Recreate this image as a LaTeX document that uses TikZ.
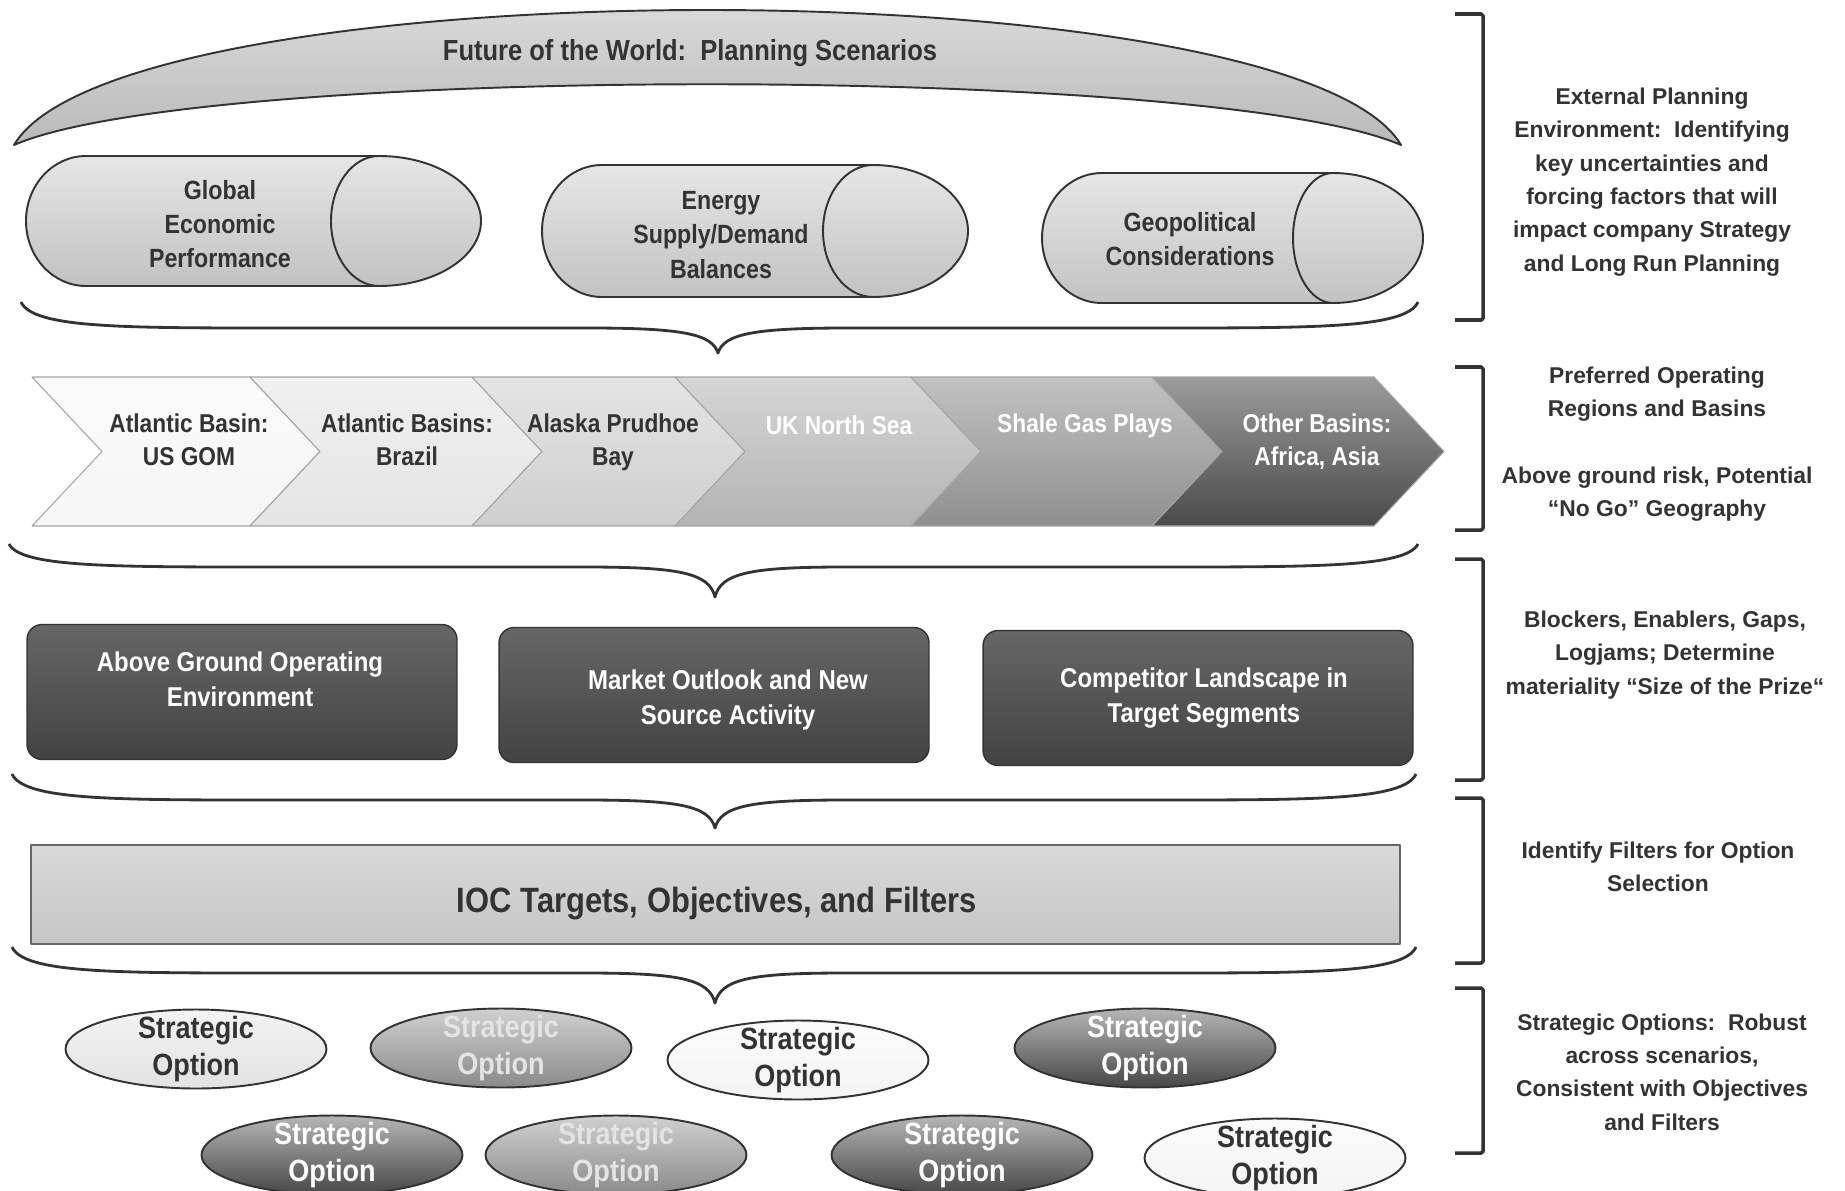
\documentclass[tikz,border=0pt]{standalone}
\usepackage{fontspec}
\setmainfont{Liberation Sans}
\newfontfamily\narrowfont[FakeStretch=0.88]{Liberation Sans}
\usepackage{tikz}
\usetikzlibrary{shapes.geometric,shapes.misc}
\definecolor{ink}{HTML}{333333}
\definecolor{chA}{HTML}{F6F6F6}
\definecolor{chB}{HTML}{E4E4E4}
\definecolor{chC}{HTML}{CECECE}
\definecolor{chD}{HTML}{B3B3B3}
\definecolor{chE}{HTML}{8F8F8F}
\definecolor{chF}{HTML}{4A4A4A}
\definecolor{cylTop}{HTML}{E6E6E6}
\definecolor{cylBot}{HTML}{C2C2C2}
\definecolor{boxTop}{HTML}{666666}
\definecolor{boxBot}{HTML}{434343}
\definecolor{optLight}{HTML}{E2E2E2}
\definecolor{optMid}{HTML}{8A8A8A}
\definecolor{optWhite}{HTML}{F4F4F4}
\definecolor{optDark}{HTML}{474747}
\definecolor{optInk}{HTML}{E4E4E4}
\newcommand{\hcurly}[6]{\draw[curlyline](#1,#3) .. controls (#1+12,#4) and (#1+100,#4) .. (#1+260,#4) -- (#5-130,#4) .. controls (#5-35,#4) and (#5-6,#4+6) .. (#5,#6) .. controls (#5+6,#4+6) and (#5+35,#4) .. (#5+130,#4) -- (#2-260,#4) .. controls (#2-100,#4) and (#2-12,#4) .. (#2,#3);}
\newcommand{\sidebracket}[2]{\draw[bracketline](1455,#1) -- (1483,#1) -- (1483,#2) -- (1455,#2);}
\begin{document}
\begin{tikzpicture}[x=0.02cm,y=-0.02cm,line join=round,
curlyline/.style={draw=ink,line width=1.6pt},
bracketline/.style={draw=ink,line width=2pt,rounded corners=1pt},
lbl/.style={text=ink,align=center,inner sep=0pt,font=\narrowfont\bfseries\fontsize{15}{19.5}\selectfont},
chlbl/.style={lbl,font=\narrowfont\bfseries\fontsize{14.7}{18.7}\selectfont},
side/.style={text=ink,align=center,inner sep=0pt,font=\bfseries\fontsize{13}{19}\selectfont},
cyl/.style={draw=ink,line width=1.1pt,top color=cylTop,bottom color=cylBot},
dbox/.style={rectangle,rounded corners=0.3cm,draw=ink,line width=0.8pt,top color=boxTop,bottom color=boxBot,minimum width=8.6cm,minimum height=2.7cm},
ioc/.style={chamfered rectangle,chamfered rectangle corners=north east,chamfered rectangle xsep=4pt,chamfered rectangle ysep=6pt,draw=gray!80!black,line width=0.8pt,top color=gray!30,bottom color=gray!45,minimum width=27.38cm,minimum height=1.98cm,inner sep=0pt},
opt/.style={ellipse,draw=ink,line width=1.1pt,minimum width=5.22cm,minimum height=1.58cm,inner sep=0pt,top color=#1!40!white,bottom color=#1},
otext/.style={align=center,inner sep=0pt,font=\narrowfont\bfseries\fontsize{17.5}{21.5}\selectfont}]
\clip(0,0) rectangle (1845,1190);
\fill[white](0,0) rectangle (1845,1190);
\draw[draw=ink,line width=1.1pt,top color=gray!22,bottom color=gray!55](14,145) .. controls (120,-35) and (1295,-35) .. (1401,145) .. controls (1215,64) and (200,64) .. (14,145) -- cycle;
\node[lbl,font=\narrowfont\bfseries\fontsize{16.5}{20}\selectfont](fw) at (690,53){Future of the World:\ \ Planning Scenarios};
\foreach \xa/\xb/\ya/\yb/\cx/\cl in {26/481/156/286/379/48,542/968/165/297/873/50,1042/1423/173/303/1333/40}{
\draw[cyl](\xa+60,\ya) -- (\cx,\ya) arc[start angle=-90,end angle=90,x radius={\xb-\cx},y radius={(\yb-\ya)/2}] -- (\xa+60,\yb) arc[start angle=90,end angle=270,x radius=60,y radius={(\yb-\ya)/2}] -- cycle;
\draw[draw=ink,line width=1.1pt](\cx,\ya) arc[start angle=-90,end angle=-270,x radius=\cl,y radius={(\yb-\ya)/2}];}
\node[lbl](gep) at (220,224){Global\\Economic\\Performance};
\node[lbl](esd) at (721,235){Energy\\Supply/Demand\\Balances};
\node[lbl](geo) at (1190,239){Geopolitical\\Considerations};
\hcurly{21}{1418}{302}{328}{718}{353}
\foreach \xl/\xr/\cc/\tc/\tx/\ty/\lab [count=\i] in {32/250/chA/ink/189/440/{Atlantic Basin:\\US GOM},250/472/chB/ink/407/440/{Atlantic Basins:\\Brazil},472/675/chC/ink/613/442/{Alaska Prudhoe\\Bay},675/911/chD/white/839/425/{UK North Sea},911/1152/chE/white/1085/426/{Shale Gas Plays},1152/1374/chF/white/1317/442/{Other Basins:\\Africa, Asia}}{
\draw[draw=gray!70,line width=0.6pt,top color=\cc!55!white,bottom color=\cc](\xl,377) -- (\xr,377) -- (\xr+70,451.5) -- (\xr,526) -- (\xl,526) -- (\xl+70,451.5) -- cycle;
\node[chlbl,text=\tc](ch\i) at (\tx,\ty){\lab};}
\hcurly{9}{1418}{544}{567}{715}{597}
\node[dbox](ag) at (242,692){};
\node[dbox](mo) at (714,695){};
\node[dbox](cl) at (1198,698){};
\node[lbl,text=white,font=\narrowfont\bfseries\fontsize{15.5}{20}\selectfont](agt) at (240,679){Above Ground Operating\\Environment};
\node[lbl,text=white,font=\narrowfont\bfseries\fontsize{15.5}{20}\selectfont](mot) at (728,700){Market Outlook and New\\Source Activity};
\node[lbl,text=white,font=\narrowfont\bfseries\fontsize{15.5}{20}\selectfont](clt) at (1204,698){Competitor Landscape in\\Target Segments};
\hcurly{12}{1416}{774}{800}{715}{828}
\node[ioc](iocb) at (715.5,894.5){};
\node[lbl,font=\narrowfont\bfseries\fontsize{20}{24}\selectfont](ioct) at (717,903){IOC Targets, Objectives, and Filters};
\hcurly{12}{1416}{947}{973}{715}{1003}
\foreach \cx/\cy/\cc/\tc [count=\i] in {196/1049/optLight/ink,501/1048/optMid/optInk,798/1060/optWhite/ink,1145/1048/optDark/white,332/1155/optDark/white,616/1155/optMid/optInk,962/1155/optDark/white,1275/1158/optWhite/ink}{
\node[opt=\cc](op\i) at (\cx,\cy){};
\node[otext,text=\tc](opl\i) at (op\i){Strategic\\Option};}
\sidebracket{14}{320}
\sidebracket{367}{530}
\sidebracket{559}{780}
\sidebracket{798}{963}
\sidebracket{988}{1153}
\node[side](ext) at (1652,182){External Planning\\Environment:\ \ Identifying\\key uncertainties and\\forcing factors that will\\impact company Strategy\\and Long Run Planning};
\node[side](pref) at (1657,444){Preferred Operating\\Regions and Basins\\[19pt]Above ground risk, Potential\\“No Go” Geography};
\node[side](blk) at (1665,655){Blockers, Enablers, Gaps,\\Logjams; Determine\\materiality “Size of the Prize“};
\node[side](flt) at (1658,867){Identify Filters for Option\\Selection};
\node[side](sto) at (1662,1072){Strategic Options:\ \ Robust\\across scenarios,\\Consistent with Objectives\\and Filters};
\end{tikzpicture}
\end{document}
